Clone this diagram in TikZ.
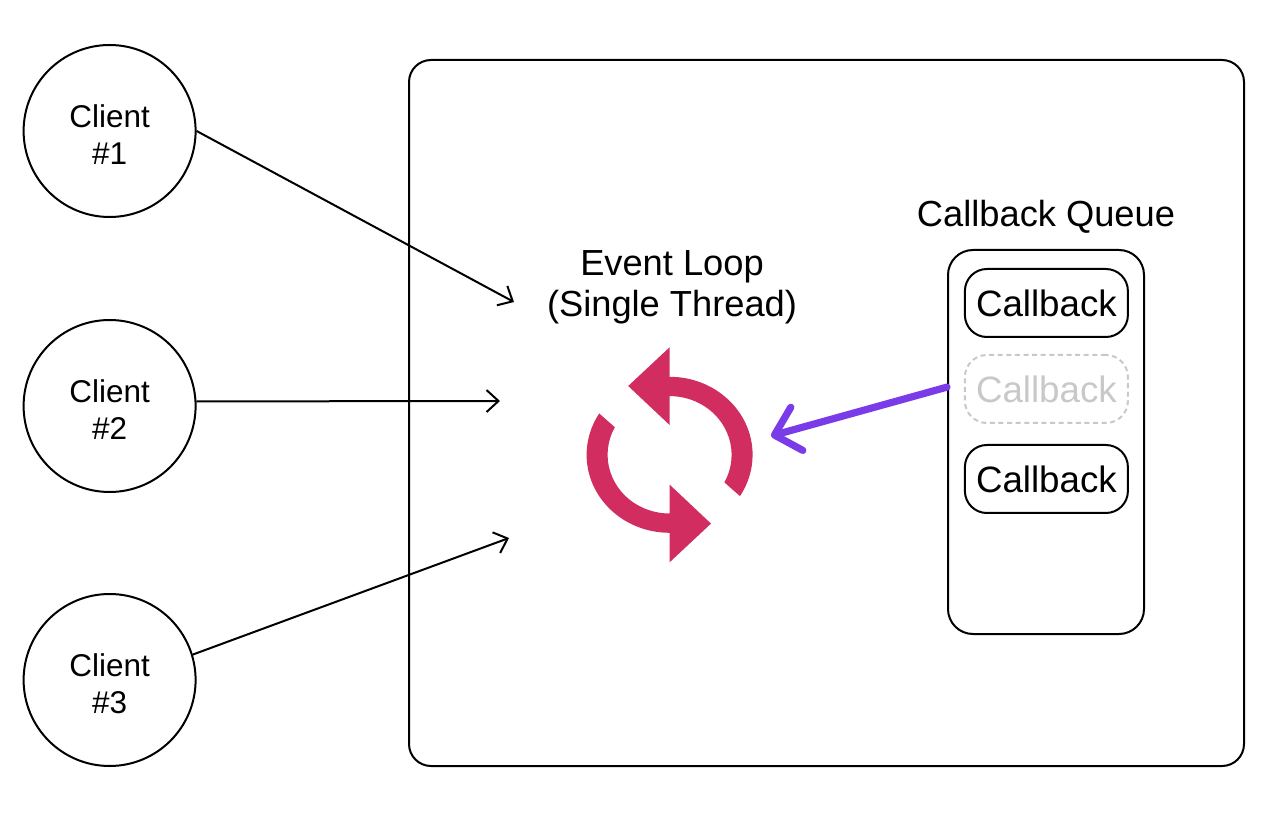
\documentclass[tikz,border=0pt]{standalone}
\usepackage{fontspec}
\setmainfont{Liberation Sans}
\usetikzlibrary{arrows.meta}
\definecolor{loopred}{HTML}{D12D60}
\definecolor{cbpurple}{HTML}{7A3CE8}
\definecolor{cbgray}{HTML}{C8C8C8}
\tikzstyle{client_node} = [circle,draw=black,line width=0.05cm,inner sep=0pt,minimum size=4.3cm]
\tikzstyle{client_label} = [align=center,yshift=-0.09cm,font=\fontsize{22.4}{26.3}\selectfont]
\tikzstyle{outer_box} = [rectangle,draw=black,line width=0.05cm,rounded corners=0.55cm,minimum width=20.875cm,minimum height=17.65cm]
\tikzstyle{queue_box} = [rectangle,draw=black,line width=0.05cm,rounded corners=0.625cm,minimum width=4.9cm,minimum height=9.6cm]
\tikzstyle{cb_block} = [rectangle,draw=black,line width=0.05cm,rounded corners=0.55cm,minimum width=4.075cm,minimum height=1.7cm,inner sep=0pt,font=\fontsize{26.1}{30}\selectfont]
\tikzstyle{cb_ghost} = [cb_block,draw=cbgray,text=cbgray,dash pattern=on 0.125cm off 0.09cm]
\tikzstyle{title_text} = [align=center,font=\fontsize{25.8}{29}\selectfont]
\tikzstyle{arrow} = [-{Straight Barb[length=0.3cm,width=0.55cm]},line width=0.05cm]
\tikzstyle{cb_arrow} = [-{Straight Barb[length=0.58cm,width=1.12cm,round]},line width=0.18cm,line cap=round,draw=cbpurple]

\begin{document}
\begin{tikzpicture}
\useasboundingbox (0,0) rectangle (31.925,20.775);

\coordinate (req1_end) at (12.85,13.225);
\coordinate (req2_end) at (12.5,10.75);
\coordinate (req3_end) at (12.725,7.325);
\coordinate (loop_tip) at (19.275,9.875);

\node[outer_box] (server) at (20.6625,10.45) {};
\node[queue_box] (queue) at (26.15,9.725) {};

\node[client_node,label={[client_label]center:{Client\\\#1}}] (client1) at (2.74,17.5) {};
\node[client_node,label={[client_label]center:{Client\\\#2}}] (client2) at (2.74,10.625) {};
\node[client_node,label={[client_label]center:{Client\\\#3}}] (client3) at (2.74,3.775) {};

\node[title_text] (loop_title) at (16.8,13.6) {Event Loop\\(Single Thread)};
\node[title_text] (queue_title) at (26.15,15.35) {Callback Queue};

\node[cb_block] (callback1) at (26.16,13.2) {Callback};
\node[cb_ghost] (callback2) at (26.16,11.05) {Callback};
\node[cb_block] (callback3) at (26.16,8.8) {Callback};

\draw[arrow] (client1.east) -- (req1_end);
\draw[arrow] (client2.3) -- (req2_end);
\draw[arrow] (client3.17) -- (req3_end);

% the two halves of the loop icon
\foreach \ang in {0,180} {
  \fill[loopred,shift={(16.74,9.405)},rotate=\ang] (0,1.95)
    arc[start angle=90,end angle=-32,x radius=2.075,y radius=1.95]
    -- (-28:1.55 and 1.4675)
    arc[start angle=-28,end angle=90,x radius=1.55,y radius=1.4675]
    -- (0,0.745) -- (-1.035,1.72) -- (0,2.6875) -- cycle;
}

\draw[cb_arrow] (queue.151) -- (loop_tip);
\end{tikzpicture}
\end{document}
